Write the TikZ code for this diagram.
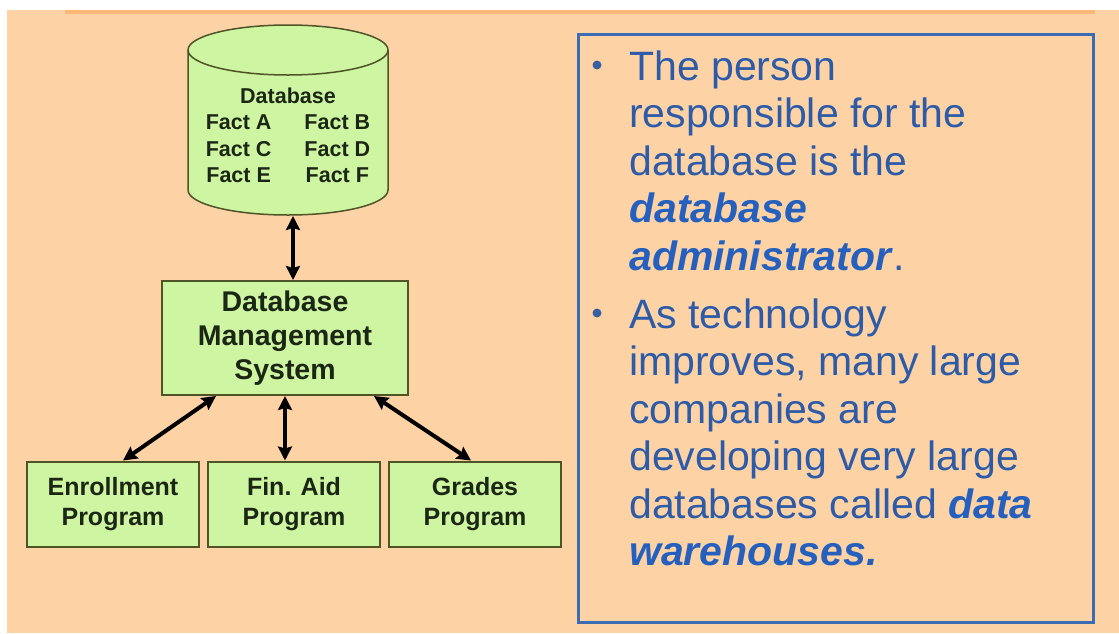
\documentclass[tikz,border=0pt]{standalone}
\usepackage{fontspec}
\setmainfont{Liberation Sans}
\usetikzlibrary{arrows.meta,calc}
\definecolor{peach}{HTML}{FDD3A6}
\definecolor{stripe}{HTML}{FBB877}
\definecolor{boxgreen}{HTML}{CDF5A2}
\definecolor{boxedge}{HTML}{4F5426}
\definecolor{inkdark}{HTML}{1C2614}
\definecolor{slideblue}{HTML}{2D5BA8}
\definecolor{keyblue}{HTML}{2560BE}
\definecolor{frameblue}{HTML}{3C6DB3}
\begin{document}
\begin{tikzpicture}[x=1pt,y=-1pt,
  greenbox/.style={draw=boxedge, line width=2pt, fill=boxgreen, inner sep=0pt,
    align=center, text=inkdark},
  link/.style={line width=4pt,
    {Stealth[length=14pt,width=14pt,inset=2pt]}-{Stealth[length=14pt,width=14pt,inset=2pt]}},
  textline/.style={anchor=base west, inner sep=0pt, text=slideblue,
    font=\fontsize{41}{48}\selectfont},
  bulletdot/.style={circle, fill=slideblue!85!gray, minimum size=9pt, inner sep=0pt},
]
\newcommand{\keyterm}[1]{\textcolor{keyblue}{\textbf{\textit{#1}}}}
\useasboundingbox (0,0) rectangle (1119,633);
\fill[white] (0,0) rectangle (1119,633);
\fill[peach] (7,10) rectangle (1119,633);
\fill[stripe] (65,10) rectangle (1095,14);

% database cylinder
\filldraw[fill=boxgreen, draw=boxedge, line width=1.5pt]
  (188,50) -- (188,190)
  arc[start angle=180, end angle=360, x radius=100pt, y radius=25pt]
  -- (388,50)
  arc[start angle=0, end angle=180, x radius=100pt, y radius=25pt] -- cycle;
\draw[draw=boxedge, line width=1.5pt]
  (188,50) arc[start angle=180, end angle=360, x radius=100pt, y radius=25pt];
\node[text=inkdark, inner sep=0pt, font=\bfseries\fontsize{21.5}{26.5}\selectfont]
  (db) at (288,137.5)
  {\begin{tabular}{@{}c@{\hspace{33pt}}c@{}}
    \multicolumn{2}{c}{Database}\\
    Fact A & Fact B\\
    Fact C & Fact D\\
    Fact E & Fact F
  \end{tabular}};
\coordinate (dbfoot) at (293,216);

% DBMS and application programs
\node[greenbox, minimum width=246pt, minimum height=114pt,
  font=\bfseries\fontsize{28.5}{34}\selectfont] (dbms) at (285,338)
  {Database\\Management\\System};
\node[greenbox, minimum width=172pt, minimum height=85pt,
  font=\bfseries\fontsize{25}{30}\selectfont] (enroll) at (113,504)
  {Enrollment\\Program};
\node[greenbox, minimum width=172pt, minimum height=85pt,
  font=\bfseries\fontsize{25}{30}\selectfont] (finaid) at (294,504)
  {Fin. Aid\\Program};
\node[greenbox, minimum width=172pt, minimum height=85pt,
  font=\bfseries\fontsize{25}{30}\selectfont] (grades) at (475,504)
  {Grades\\Program};

% connectors
\draw[link] (dbfoot) -- (dbfoot |- dbms.north);
\draw[link] ($(dbms.south west)+(55,0)$) -- ($(enroll.north west)+(97,0)$);
\draw[link] (dbms.south) -- (dbms.south |- finaid.north);
\draw[link] ($(dbms.south east)+(-35,0)$) -- ($(grades.north west)+(83,0)$);

% text panel
\node[draw=frameblue, line width=3pt, minimum width=515pt, minimum height=588pt,
  inner sep=0pt] (panel) at (835.5,328) {};
\node[bulletdot] (b1) at (597,65) {};
\node[bulletdot] (b2) at (597,313) {};
\node[textline] (l1) at (629,80) {The person};
\node[textline] (l2) at (629,127.5) {responsible for the};
\node[textline] (l3) at (629,175) {database is the};
\node[textline] (l4) at (629,222.5) {\keyterm{database}};
\node[textline] (l5) at (629,270) {\keyterm{administrator}.};
\node[textline] (l6) at (629,328) {As technology};
\node[textline] (l7) at (629,375.5) {improves, many large};
\node[textline] (l8) at (629,423) {companies are};
\node[textline] (l9) at (629,470.5) {developing very large};
\node[textline] (l10) at (629,518) {databases called \keyterm{data}};
\node[textline] (l11) at (629,565.5) {\keyterm{warehouses.}};
\end{tikzpicture}
\end{document}
